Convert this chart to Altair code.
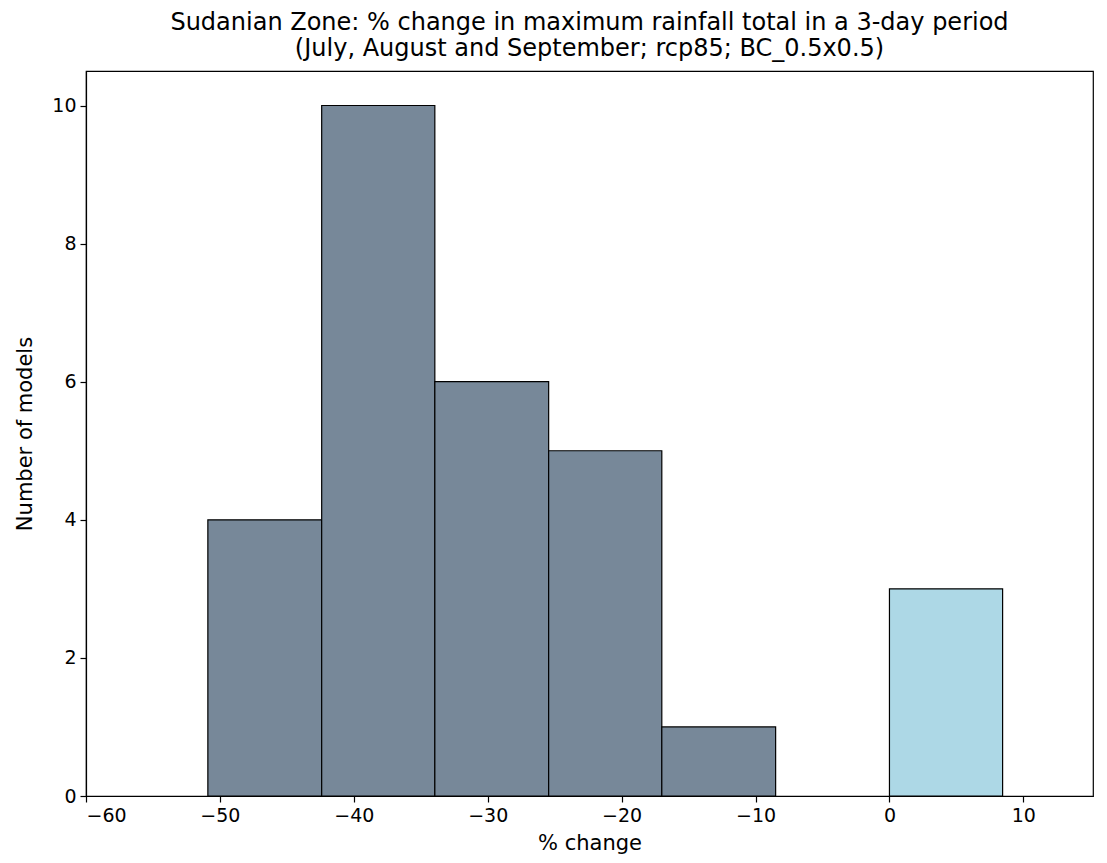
import altair as alt
import pandas as pd

bin_start = [-50.9, -42.4, -33.95, -25.45, -17.0, -8.5, 0.0]
bin_end = [-42.4, -33.95, -25.45, -17.0, -8.5, 0.0, 8.45]
counts = [4, 10, 6, 5, 1, 0, 3]
sign = ["neg", "neg", "neg", "neg", "neg", "neg", "pos"]

df = pd.DataFrame({"start": bin_start, "end": bin_end, "count": counts, "sign": sign})
df = df[df["count"] > 0]

font = "DejaVu Sans"

chart = alt.Chart(df).mark_rect(stroke="black", strokeWidth=1.2).encode(
    x=alt.X("start:Q",
            scale=alt.Scale(domain=[-60, 15.2], nice=False, zero=False),
            axis=alt.Axis(values=[-60, -50, -40, -30, -20, -10, 0, 10], grid=False,
                          title="% change", titleFontWeight="normal",
                          titlePadding=7)),
    x2="end:Q",
    y=alt.Y("count:Q",
            scale=alt.Scale(domain=[0, 10.5], nice=False),
            axis=alt.Axis(values=[0, 2, 4, 6, 8, 10], grid=False,
                          title="Number of models", titleFontWeight="normal",
                          titlePadding=16)),
    y2=alt.datum(0),
    color=alt.Color("sign:N",
                    scale=alt.Scale(domain=["neg", "pos"], range=["#778899", "#ADD8E6"]),
                    legend=None),
).properties(
    width=1007,
    height=725,
    autosize=alt.AutoSizeParams(type="none"),
    padding={"left": 78, "top": 63, "right": 6, "bottom": 59},
    title=alt.TitleParams(
        ["Sudanian Zone: % change in maximum rainfall total in a 3-day period",
         "(July, August and September; rcp85; BC_0.5x0.5)"],
        fontSize=24, fontWeight="normal", font=font, color="black", offset=10,
        lineHeight=26),
).configure_view(
    stroke="black", strokeWidth=1.2
).configure_axis(
    labelFont=font, titleFont=font, labelFontSize=19, titleFontSize=21,
    labelColor="black", titleColor="black", domainColor="black", tickColor="black",
    tickSize=6, domainWidth=1.2, tickWidth=1.2, labelPadding=4,
)

chart.save("out.html", embed_options={"renderer": "svg", "actions": False})
